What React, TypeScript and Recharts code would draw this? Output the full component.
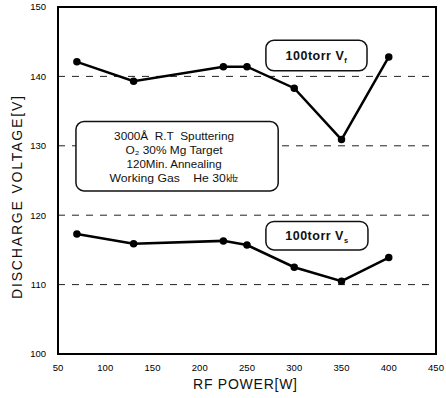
import React from "react";
import {
  LineChart,
  Line,
  XAxis,
  YAxis,
  CartesianGrid,
  ReferenceArea,
} from "recharts";

const power = [70, 130, 225, 250, 300, 350, 400];
const vf = [142.1, 139.3, 141.4, 141.4, 138.3, 130.9, 142.8];
const vs = [117.3, 115.9, 116.3, 115.7, 112.5, 110.5, 113.9];

const xTicks = [50, 100, 150, 200, 250, 300, 350, 400, 450];
const yTicks = [100, 110, 120, 130, 140, 150];

const noteLines = [
  "3000Å  R.T  Sputtering",
  "O₂ 30% Mg Target",
  "120Min. Annealing",
  "Working Gas    He 30㎑",
];
// rough printed widths of the note lines
const noteWidths = [120, 97, 95, 129];

const data = power.map((p, i) => ({ power: p, vf: vf[i], vs: vs[i] }));

const FONT = "'Liberation Sans', Arial, sans-serif";

function TagLabel({ viewBox, sub }: { viewBox?: any; sub: string }) {
  if (!viewBox) return null;
  const cx = viewBox.x + viewBox.width / 2;
  const cy = viewBox.y + viewBox.height / 2;
  return (
    <text
      x={cx}
      y={cy + 4}
      textAnchor="middle"
      fontFamily={FONT}
      fontSize={12.5}
      fontWeight="bold"
      letterSpacing={0.5}
      fill="#111"
    >
      100torr V
      <tspan fontSize={7.5} dy={3}>
        {sub}
      </tspan>
    </text>
  );
}

function NoteLabel({ viewBox }: { viewBox?: any }) {
  if (!viewBox) return null;
  const cx = viewBox.x + viewBox.width / 2 - 3;
  const top = viewBox.y + 18;
  return (
    <g>
      {noteLines.map((t, i) => (
        <text
          key={i}
          x={cx}
          y={top + i * 14.3}
          textAnchor="middle"
          fontFamily={FONT}
          fontSize={10.5}
          textLength={noteWidths[i]}
          lengthAdjust="spacingAndGlyphs"
          style={{ whiteSpace: "pre" }}
          fill="#111"
        >
          {t}
        </text>
      ))}
    </g>
  );
}

function YTitle({ viewBox }: { viewBox?: any }) {
  if (!viewBox) return null;
  const x = 17;
  const y = viewBox.y + viewBox.height / 2 + 17;
  return (
    <text
      x={x}
      y={y}
      transform={`rotate(-90 ${x} ${y})`}
      textAnchor="middle"
      dominantBaseline="central"
      fontFamily={FONT}
      fontSize={14}
      textLength={203}
      lengthAdjust="spacing"
      fill="#111"
    >
      DISCHARGE VOLTAGE[V]
    </text>
  );
}

function XTitle({ viewBox }: { viewBox?: any }) {
  if (!viewBox) return null;
  const x = viewBox.x + viewBox.width / 2 - 2;
  return (
    <text
      x={x}
      y={389}
      textAnchor="middle"
      fontFamily={FONT}
      fontSize={14}
      textLength={104}
      lengthAdjust="spacing"
      fill="#111"
    >
      RF POWER[W]
    </text>
  );
}

export default function App() {
  return (
    <div style={{ position: "absolute", left: 0, top: 0, background: "#fff" }}>
      <LineChart
        width={446}
        height={398}
        data={data}
        margin={{ top: 7, right: 10, left: 0, bottom: 0 }}
      >
        <CartesianGrid
          vertical={false}
          stroke="#222"
          strokeDasharray="7 7"
          strokeWidth={1}
        />
        <XAxis
          dataKey="power"
          type="number"
          domain={[50, 450]}
          ticks={xTicks}
          axisLine={{ stroke: "#000", strokeWidth: 2 }}
          tickLine={false}
          tickMargin={4}
          height={44}
          tick={{ fontSize: 9.5, fill: "#000", fontFamily: FONT }}
          label={<XTitle />}
        />
        <YAxis
          type="number"
          domain={[100, 150]}
          ticks={yTicks}
          axisLine={{ stroke: "#000", strokeWidth: 2 }}
          tickLine={false}
          tickMargin={6}
          width={58}
          tick={{ fontSize: 9.5, fill: "#000", fontFamily: FONT }}
          label={<YTitle />}
        />
        <ReferenceArea
          x1={50}
          x2={450}
          y1={100}
          y2={150}
          fill="none"
          stroke="#000"
          strokeWidth={2}
        />
        <ReferenceArea
          x1={69}
          x2={283}
          y1={123.5}
          y2={133.5}
          fill="#fff"
          fillOpacity={1}
          stroke="#111"
          strokeWidth={1.5}
          radius={8}
          label={<NoteLabel />}
        />
        <ReferenceArea
          x1={270}
          x2={377}
          y1={140.8}
          y2={145.2}
          fill="#fff"
          fillOpacity={1}
          stroke="#111"
          strokeWidth={1.5}
          radius={8}
          label={<TagLabel sub="f" />}
        />
        <ReferenceArea
          x1={270}
          x2={378}
          y1={115}
          y2={119.1}
          fill="#fff"
          fillOpacity={1}
          stroke="#111"
          strokeWidth={1.5}
          radius={8}
          label={<TagLabel sub="s" />}
        />
        <Line
          dataKey="vf"
          type="linear"
          stroke="#000"
          strokeWidth={2.5}
          dot={{ r: 2.5, fill: "#000", stroke: "#000" }}
          isAnimationActive={false}
        />
        <Line
          dataKey="vs"
          type="linear"
          stroke="#000"
          strokeWidth={2.5}
          dot={{ r: 2.5, fill: "#000", stroke: "#000" }}
          isAnimationActive={false}
        />
      </LineChart>
    </div>
  );
}
